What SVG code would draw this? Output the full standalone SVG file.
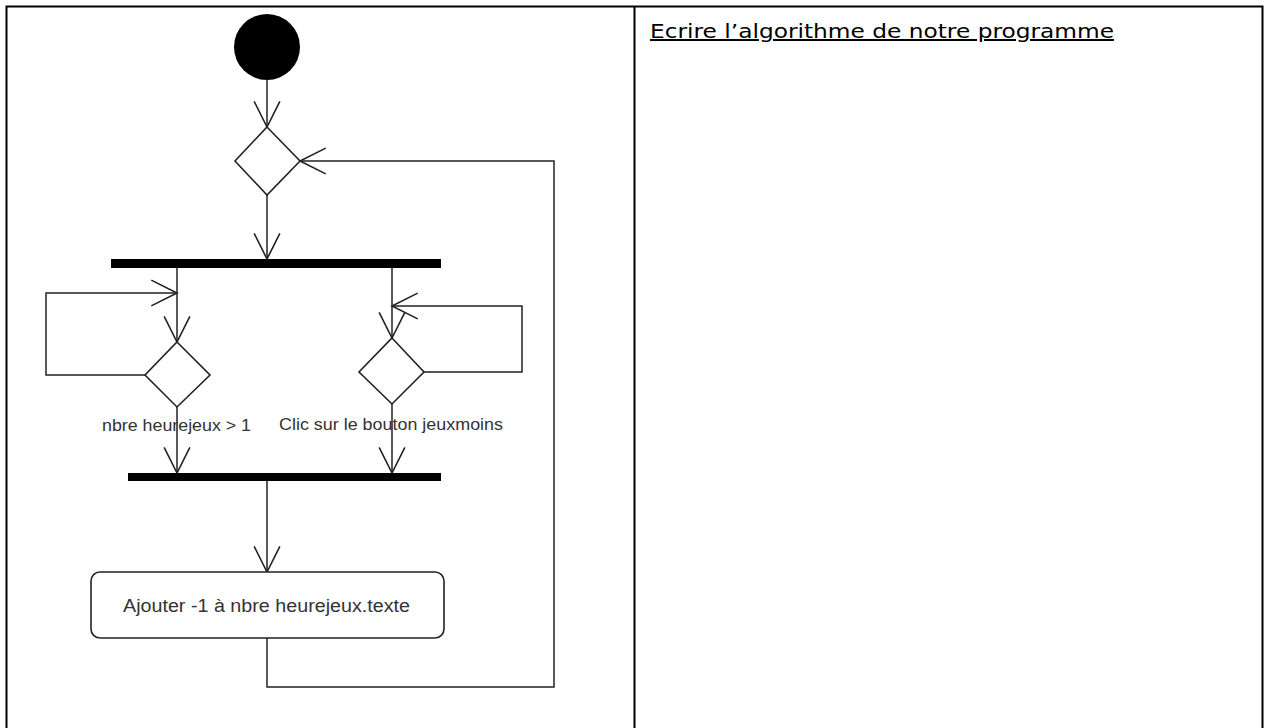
<svg xmlns="http://www.w3.org/2000/svg" width="1267" height="728" viewBox="0 0 1267 728">
<style>
.frame{stroke:#000;stroke-width:2;fill:none}
.shape{fill:#fff;stroke:#222;stroke-width:1.6}
.bar{fill:#000}
.conn{fill:none;stroke:#222;stroke-width:1.5}
.lbl{font-family:"Liberation Sans",Arial,sans-serif;font-size:17px;fill:#333}
.act{font-family:"Liberation Sans",Arial,sans-serif;font-size:18px;fill:#333}
.title{font-family:"DejaVu Sans","Liberation Sans",sans-serif;font-size:20px;fill:#000;text-decoration:underline}
</style>
<defs>
<marker id="open" markerUnits="userSpaceOnUse" markerWidth="30" markerHeight="30" viewBox="-26 -14 28 28" refX="0" refY="0" orient="auto" overflow="visible">
<path d="M -24 -12 L 0 0 L -24 12" fill="none" stroke="#222" stroke-width="1.5"/>
</marker>
</defs>
<g id="table">
<path class="frame" d="M6.5 728 V6.5 H1262.5 V728"/>
<line class="frame" x1="634.5" y1="6.5" x2="634.5" y2="728"/>
</g>
<g id="title">
<text class="title" x="650" y="38" textLength="464" lengthAdjust="spacingAndGlyphs">Ecrire l’algorithme de notre programme</text>
</g>
<g id="connectors">
<path class="conn" d="M267 80 V127" marker-end="url(#open)"/>
<path class="conn" d="M267 195 V259" marker-end="url(#open)"/>
<path class="conn" d="M177 267 V342" marker-end="url(#open)"/>
<path class="conn" d="M392 267 V338" marker-end="url(#open)"/>
<path class="conn" d="M145 375 H46 V293 H177" marker-end="url(#open)"/>
<path class="conn" d="M423 372 H522 V306 H392" marker-end="url(#open)"/>
<path class="conn" d="M177 407 V473" marker-end="url(#open)"/>
<path class="conn" d="M392 404 V473" marker-end="url(#open)"/>
<path class="conn" d="M267 481 V572" marker-end="url(#open)"/>
<path class="conn" d="M267 638 V687 H554 V161 H300" marker-end="url(#open)"/>
</g>
<g id="start">
<circle cx="267" cy="47" r="33" fill="#000"/>
</g>
<g id="decision1">
<polygon class="shape" points="267,127 300,161 267,195 235,161"/>
</g>
<g id="fork">
<rect class="bar" x="111" y="259" width="330" height="9"/>
</g>
<g id="decision2">
<polygon class="shape" points="177,342 210,375 177,407 145,375"/>
</g>
<g id="decision3">
<polygon class="shape" points="392,338 424,372 392,404 359,372"/>
</g>
<g id="label1">
<text class="lbl" x="102" y="431" textLength="149" lengthAdjust="spacingAndGlyphs">nbre heurejeux &gt; 1</text>
</g>
<g id="label2">
<text class="lbl" x="279" y="430" textLength="224" lengthAdjust="spacingAndGlyphs">Clic sur le bouton jeuxmoins</text>
</g>
<g id="join">
<rect class="bar" x="128" y="473" width="313" height="8"/>
</g>
<g id="action">
<rect class="shape" x="91" y="572" width="353" height="66" rx="9" ry="9"/>
<text class="act" x="123" y="612" textLength="287" lengthAdjust="spacingAndGlyphs">Ajouter -1 à nbre heurejeux.texte</text>
</g>
</svg>
